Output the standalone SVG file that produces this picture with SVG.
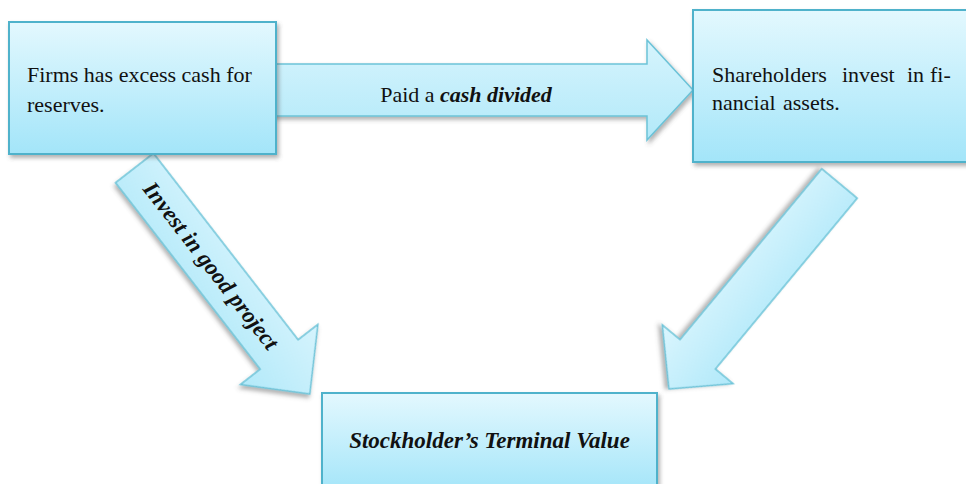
<svg xmlns="http://www.w3.org/2000/svg" width="966" height="484" viewBox="0 0 966 484">
<defs>
<linearGradient id="boxGrad" x1="0" y1="0" x2="0" y2="1">
<stop offset="0" stop-color="#e3f8fe"/>
<stop offset="1" stop-color="#a3e5f9"/>
</linearGradient>
<linearGradient id="arrGrad" x1="0" y1="0" x2="0" y2="1">
<stop offset="0" stop-color="#d6f4fd"/>
<stop offset="1" stop-color="#b2e9f9"/>
</linearGradient>
<linearGradient id="arrGradR" x1="0" y1="1" x2="0" y2="0">
<stop offset="0" stop-color="#dbf6fe"/>
<stop offset="1" stop-color="#b0e8f9"/>
</linearGradient>
<filter id="shadow" x="-10%" y="-10%" width="130%" height="130%">
<feDropShadow dx="2" dy="3" stdDeviation="2" flood-color="#555" flood-opacity="0.45"/>
</filter>
</defs>
<style>
.box{fill:url(#boxGrad);stroke:#4fb2cb;stroke-width:2;filter:url(#shadow)}
.arrow{fill:url(#arrGrad);stroke:#6cc3d8;stroke-width:1.5;stroke-linejoin:miter;filter:url(#shadow)}
.t{font-family:"Liberation Serif","Times New Roman",serif;font-size:22px;fill:#111}
.bi{font-weight:bold;font-style:italic}
</style>
<g id="connectors">
<g id="arrow-dividend">
<path class="arrow" d="M270,64 L647,64 L647,40 L693,90 L647,140 L647,116 L270,116 Z"/>
<text class="t" x="466" y="102" text-anchor="middle">Paid a <tspan class="bi">cash divided</tspan></text>
</g>
<g id="arrow-invest" transform="translate(134.5,168) rotate(52.2)">
<path class="arrow" d="M0,-24 L236,-24 L236,-49 L286,0 L236,49 L236,24 L0,24 Z"/>
<text class="t bi" x="124" y="7" text-anchor="middle" style="font-size:23px">Invest in good project</text>
</g>
<g id="arrow-shareholders" transform="translate(839.5,183.5) rotate(129.7)">
<path class="arrow" style="fill:url(#arrGradR)" d="M0,-23 L222,-23 L222,-46 L267,0 L222,46 L222,23 L0,23 Z"/>
</g>
</g>
<g id="node-firms">
<rect class="box" x="9" y="22" width="267" height="132"/>
<text class="t" x="27" y="82">Firms has excess cash for</text>
<text class="t" x="27" y="112">reserves.</text>
</g>
<g id="node-shareholders">
<rect class="box" x="693" y="10" width="285" height="152"/>
<text class="t" y="82"><tspan x="712">Shareholders</tspan><tspan x="842">invest</tspan><tspan x="907">in</tspan><tspan x="930">fi-</tspan></text>
<text class="t" y="110"><tspan x="712">nancial</tspan><tspan x="783">assets.</tspan></text>
</g>
<g id="node-terminal">
<rect class="box" x="322" y="393" width="335" height="100"/>
<text class="t bi" x="489.5" y="448" text-anchor="middle" style="font-size:23px">Stockholder’s Terminal Value</text>
</g>
</svg>
